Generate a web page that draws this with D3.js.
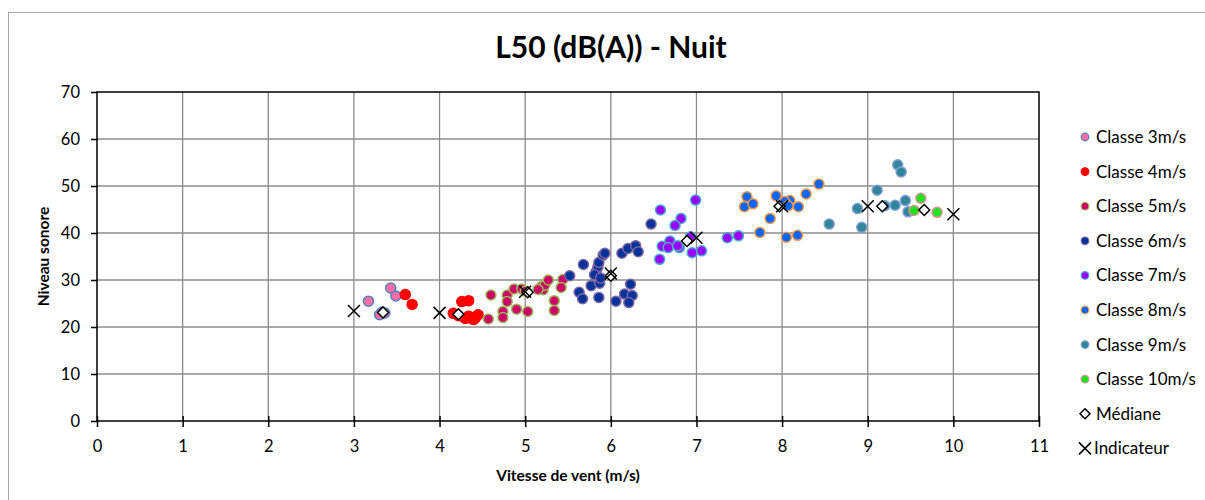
<!DOCTYPE html>
<html>
<head>
<meta charset="utf-8">
<script src="https://cdn.jsdelivr.net/npm/d3@7"></script>
<style>
  body { margin: 0; background: white; }
  svg { font-family: Lato, "Open Sans", sans-serif; }
</style>
</head>
<body>
<svg id="chart" width="1205" height="500"></svg>
<script>
// data
const class_names = ['Classe 3m/s', 'Classe 4m/s', 'Classe 5m/s', 'Classe 6m/s',
                     'Classe 7m/s', 'Classe 8m/s', 'Classe 9m/s', 'Classe 10m/s'];

const class3_x = [3.17, 3.43, 3.49, 3.33, 3.36, 3.30];
const class3_y = [25.5, 28.3, 26.6, 23.2, 23.0, 22.6];

const class4_x = [3.60, 3.68, 4.26, 4.34, 4.16, 4.22, 4.30, 4.34, 4.38, 4.42, 4.45, 4.40];
const class4_y = [26.9, 24.8, 25.4, 25.6, 22.9, 22.4, 21.8, 22.3, 21.7, 22.0, 22.6, 21.6];

const class5_x = [4.57, 4.60, 4.74, 4.74, 4.79, 4.79, 4.87, 4.90, 4.96, 5.03,
                  5.00, 5.19, 5.21, 5.23, 5.27, 5.34, 5.34, 5.44, 5.42, 5.15];
const class5_y = [21.7, 26.8, 23.3, 22.0, 26.8, 25.4, 28.1, 23.8, 28.1, 23.3,
                  27.6, 28.6, 27.9, 28.9, 30.0, 25.6, 23.5, 30.1, 28.4, 28.0];

const class6_x = [5.52, 5.68, 5.63, 5.67, 5.77, 5.83, 5.85, 5.81, 5.86, 5.91, 5.93, 5.87,
                  5.86, 5.88, 6.06, 6.13, 6.20, 6.29, 6.32, 6.23, 6.16, 6.25, 6.21, 6.47];
const class6_y = [30.9, 33.3, 27.4, 26.0, 28.8, 31.8, 32.8, 31.1, 33.7, 35.3, 35.7, 29.3,
                  26.3, 30.4, 25.5, 35.7, 36.7, 37.3, 36.0, 29.1, 27.0, 26.7, 25.2, 41.9];

const class7_x = [6.58, 6.82, 6.75, 6.99, 6.60, 6.69, 6.67, 6.80, 6.57, 6.95, 7.06, 6.93, 7.36, 7.49, 6.78];
const class7_y = [44.9, 43.1, 41.6, 47.0, 37.2, 38.3, 36.9, 36.9, 34.4, 35.8, 36.2, 39.2, 39.0, 39.4, 37.3];

const class8_x = [7.59, 7.56, 7.66, 7.93, 7.86, 7.74, 8.09, 8.03, 8.19, 8.28, 8.43, 8.05, 8.18, 8.07];
const class8_y = [47.7, 45.6, 46.2, 47.9, 43.1, 40.1, 46.9, 46.7, 45.6, 48.3, 50.4, 39.1, 39.5, 45.8];

const class9_x = [9.35, 9.39, 9.11, 8.88, 8.93, 9.32, 9.44, 9.47, 8.55, 9.20];
const class9_y = [54.5, 53.0, 49.1, 45.2, 41.2, 45.9, 46.9, 44.5, 41.9, 45.8];

const class10_x = [9.62, 9.54, 9.81];
const class10_y = [47.4, 44.8, 44.4];

const median_x = [3.34, 4.22, 5.03, 6.00, 6.89, 7.97, 9.17, 9.66];
const median_y = [23.1, 22.7, 27.4, 30.9, 38.3, 45.7, 45.7, 44.9];

const indicator_x = [3, 4, 5, 6, 7, 8, 9, 10];
const indicator_y = [23.4, 23.0, 27.5, 31.4, 39.0, 45.7, 45.7, 44.0];

const x_ticks = [0, 1, 2, 3, 4, 5, 6, 7, 8, 9, 10, 11];
const y_ticks = [0, 10, 20, 30, 40, 50, 60, 70];

// fill / border of each class marker
const class_fill = ['#ff6fa6', '#ff0000', '#cc0066', '#003399', '#9900ff', '#0066ff', '#31869b', '#22e022'];
const class_stroke = ['#4f81bd', '#ff0000', '#9bbb59', '#8064a2', '#4bacc6', '#f79646', '#7f9fd0', '#d99594'];

const class_x = [class3_x, class4_x, class5_x, class6_x, class7_x, class8_x, class9_x, class10_x];
const class_y = [class3_y, class4_y, class5_y, class6_y, class7_y, class8_y, class9_y, class10_y];

const plot_left = 97, plot_right = 1039, plot_top = 92, plot_bottom = 421;
const grid_color = '#8c8c8c';
const tick_font = 16.5, legend_font = 17, axis_title_font = 15.5;

const svg = d3.select('#chart');

// outer chart border
svg.append('rect')
  .attr('x', 8.5).attr('y', 12.5)
  .attr('width', 1210).attr('height', 500)
  .attr('fill', 'white')
  .attr('stroke', '#a6a6a6')
  .attr('stroke-width', 1);

const x = d3.scaleLinear().domain([0, 11]).range([plot_left, plot_right]);
const y = d3.scaleLinear().domain([0, 70]).range([plot_bottom, plot_top]);

// gridlines
svg.append('g')
  .selectAll('line')
  .data(x_ticks.slice(1, -1))
  .join('line')
  .attr('x1', d => x(d)).attr('x2', d => x(d))
  .attr('y1', plot_top).attr('y2', plot_bottom)
  .attr('stroke', grid_color).attr('stroke-width', 1.3);

svg.append('g')
  .selectAll('line')
  .data(y_ticks.slice(1, -1))
  .join('line')
  .attr('x1', plot_left).attr('x2', plot_right)
  .attr('y1', d => y(d)).attr('y2', d => y(d))
  .attr('stroke', grid_color).attr('stroke-width', 1.3);

// plot frame
svg.append('rect')
  .attr('x', plot_left).attr('y', plot_top)
  .attr('width', plot_right - plot_left).attr('height', plot_bottom - plot_top)
  .attr('fill', 'none').attr('stroke', 'black').attr('stroke-width', 1.5);

// axes
const x_axis = svg.append('g')
  .attr('transform', `translate(0,${plot_bottom})`)
  .call(d3.axisBottom(x).tickValues(x_ticks).tickFormat(d3.format('d')).tickSizeInner(6).tickSizeOuter(0).tickPadding(13));
x_axis.select('.domain').remove();
x_axis.selectAll('.tick line').attr('y1', -5).attr('stroke-width', 1.5);
x_axis.selectAll('text').attr('font-size', tick_font).attr('font-family', 'Lato, sans-serif').attr('fill', 'black');

const y_axis = svg.append('g')
  .attr('transform', `translate(${plot_left},0)`)
  .call(d3.axisLeft(y).tickValues(y_ticks).tickSizeInner(6).tickSizeOuter(0).tickPadding(11));
y_axis.select('.domain').remove();
y_axis.selectAll('.tick line').attr('stroke-width', 1.5);
y_axis.selectAll('text').attr('font-size', tick_font).attr('font-family', 'Lato, sans-serif').attr('fill', 'black');

// titles
svg.append('text')
  .attr('x', 611).attr('y', 58)
  .attr('text-anchor', 'middle')
  .attr('font-size', 30).attr('font-weight', 'bold')
  .text('L50 (dB(A)) - Nuit');

svg.append('text')
  .attr('x', (plot_left + plot_right) / 2).attr('y', 481)
  .attr('text-anchor', 'middle')
  .attr('font-size', axis_title_font).attr('font-weight', 'bold')
  .text('Vitesse de vent (m/s)');

svg.append('text')
  .attr('transform', `translate(49,${(plot_top + plot_bottom) / 2}) rotate(-90)`)
  .attr('text-anchor', 'middle')
  .attr('font-size', axis_title_font).attr('font-weight', 'bold')
  .text('Niveau sonore');

// class points
class_x.forEach((xs, i) => {
  svg.append('g')
    .selectAll('circle')
    .data(xs.map((v, j) => [v, class_y[i][j]]))
    .join('circle')
    .attr('cx', d => x(d[0]))
    .attr('cy', d => y(d[1]))
    .attr('r', 5)
    .attr('fill', class_fill[i])
    .attr('stroke', class_stroke[i])
    .attr('stroke-width', 1.5);
});

const diamond = (cx, cy, s) => `M${cx},${cy - s}L${cx + s},${cy}L${cx},${cy + s}L${cx - s},${cy}Z`;
const cross = (cx, cy, s) => `M${cx - s},${cy - s}L${cx + s},${cy + s}M${cx - s},${cy + s}L${cx + s},${cy - s}`;

// medians
svg.append('g')
  .selectAll('path')
  .data(median_x.map((v, j) => [v, median_y[j]]))
  .join('path')
  .attr('d', d => diamond(x(d[0]), y(d[1]), 5.5))
  .attr('fill', 'white').attr('stroke', 'black').attr('stroke-width', 1.5);

// indicators
svg.append('g')
  .selectAll('path')
  .data(indicator_x.map((v, j) => [v, indicator_y[j]]))
  .join('path')
  .attr('d', d => cross(x(d[0]), y(d[1]), 6))
  .attr('fill', 'none').attr('stroke', 'black').attr('stroke-width', 1.5);

// legend
const legend_y0 = 137, legend_step = 34.6, legend_mx = 1085, legend_tx = 1096;
const legend = svg.append('g');

class_names.forEach((name, i) => {
  const ly = legend_y0 + i * legend_step;
  legend.append('circle')
    .attr('cx', legend_mx).attr('cy', ly).attr('r', 3.8)
    .attr('fill', class_fill[i]).attr('stroke', class_stroke[i]).attr('stroke-width', 1.2);
  legend.append('text')
    .attr('x', legend_tx).attr('y', ly).attr('dy', '0.35em')
    .attr('font-size', legend_font).text(name);
});

const med_ly = legend_y0 + 8 * legend_step;
legend.append('path')
  .attr('d', diamond(legend_mx, med_ly, 5))
  .attr('fill', 'white').attr('stroke', 'black').attr('stroke-width', 1.5);
legend.append('text')
  .attr('x', legend_tx).attr('y', med_ly).attr('dy', '0.35em')
  .attr('font-size', legend_font).text('Médiane');

const ind_ly = legend_y0 + 9 * legend_step;
legend.append('path')
  .attr('d', cross(legend_mx, ind_ly, 6))
  .attr('fill', 'none').attr('stroke', 'black').attr('stroke-width', 1.5);
legend.append('text')
  .attr('x', legend_tx - 2).attr('y', ind_ly).attr('dy', '0.35em')
  .attr('font-size', legend_font).text('Indicateur');
</script>
</body>
</html>
